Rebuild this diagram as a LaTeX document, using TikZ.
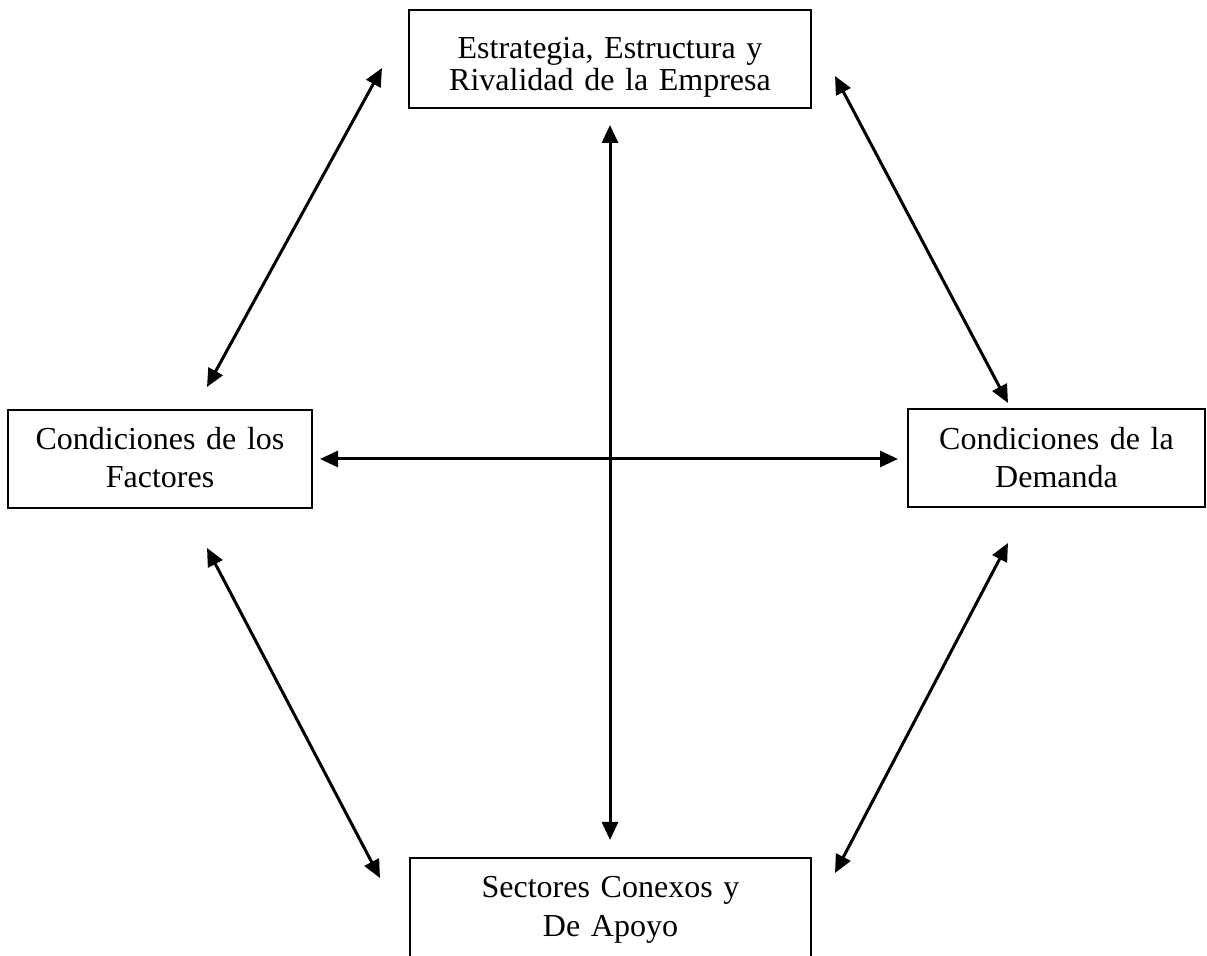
\documentclass[tikz,border=0pt]{standalone}
\usepackage{fontspec}
\setmainfont{Liberation Serif}
\usetikzlibrary{arrows.meta}

\tikzset{
  caja/.style={draw, line width=1pt, inner sep=0pt, outer sep=0pt, align=center,
    font=\fontsize{16}{19}\selectfont},
  flecha/.style={{Triangle[length=9pt,width=8pt]}-{Triangle[length=9pt,width=8pt]}, line width=1.5pt}
}

\begin{document}
\begin{tikzpicture}[x=0.5pt, y=-0.5pt]
        \useasboundingbox (0,0) rectangle (1207,956);

        \node[caja, anchor=north, text width=201pt, text height=24.25pt, text depth=24.75pt,
          font=\fontsize{16}{16}\selectfont] (estr) at (610,10)
          {Estrategia, Estructura y\\Rivalidad de la Empresa};
        \node[caja, anchor=north, text width=152pt, text height=20pt, text depth=29pt] (fact) at (160,410)
          {Condiciones de los\\Factores};
        \node[caja, anchor=north, text width=148.5pt, text height=20.5pt, text depth=28.5pt] (dem) at (1056.5,409)
          {Condiciones de la\\Demanda};
        \node[caja, anchor=north, text width=200.5pt, text height=20pt, text depth=31pt,
          font=\fontsize{16}{19.5}\selectfont] (sect) at (610.5,858)
          {Sectores Conexos y\\De Apoyo};

        \coordinate (ef1) at (382,68);
        \coordinate (ef2) at (207,387);
        \coordinate (ed1) at (835,76);
        \coordinate (ed2) at (1008,403);
        \coordinate (fs1) at (207,548);
        \coordinate (fs2) at (380,878);
        \coordinate (ds1) at (1008,543);
        \coordinate (ds2) at (835,873);
        \coordinate (es1) at (610,125);
        \coordinate (es2) at (610,840);
        \coordinate (fd1) at (320,459);
        \coordinate (fd2) at (898,459);

        \draw[flecha] (ef1) -- (ef2);
        \draw[flecha] (ed1) -- (ed2);
        \draw[flecha] (fs1) -- (fs2);
        \draw[flecha] (ds1) -- (ds2);
        \draw[flecha] (es1) -- (es2);
        \draw[flecha] (fd1) -- (fd2);
\end{tikzpicture}
\end{document}
